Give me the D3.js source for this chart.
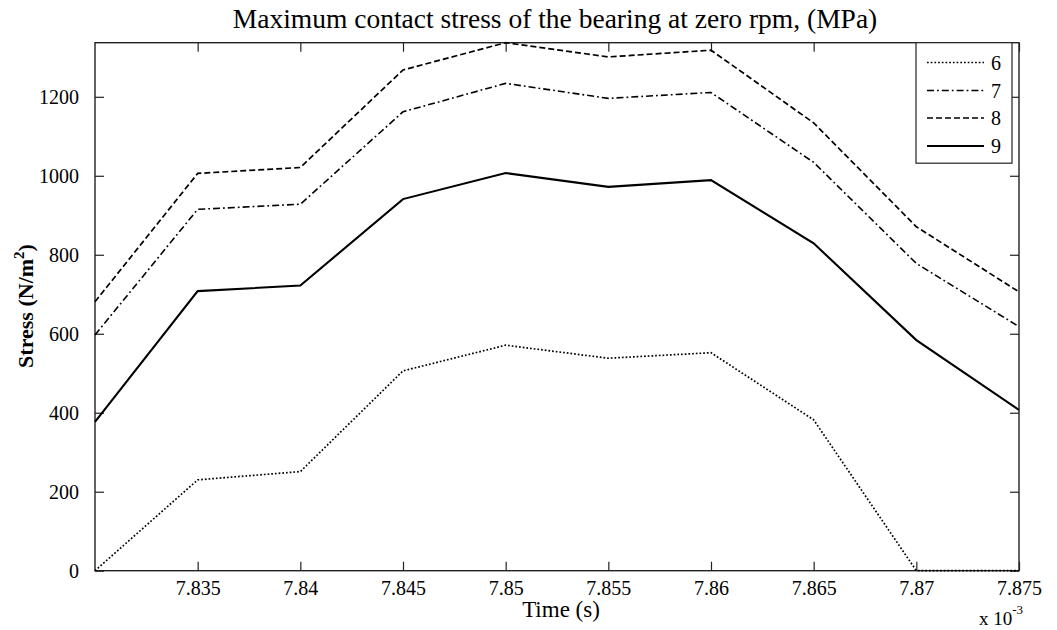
<!DOCTYPE html>
<html><head><meta charset="utf-8">
<script src="https://cdn.jsdelivr.net/npm/d3@7"></script>
<style>
body{margin:0;background:#fff;}
text{font-family:"Liberation Serif","Times New Roman",serif;fill:#000;}
</style></head>
<body><svg id="c" width="1057" height="630"></svg>
<script>
const times = [7.830, 7.835, 7.840, 7.845, 7.850, 7.855, 7.860, 7.865, 7.870, 7.875];
const seriesNames = ["6", "7", "8", "9"];
const s6 = [0, 230, 251, 506, 571, 538, 552, 382, 0, 0];
const s7 = [597, 915, 928, 1162, 1234, 1196, 1211, 1034, 778, 618];
const s8 = [681, 1006, 1021, 1268, 1337, 1301, 1318, 1134, 871, 706];
const s9 = [377, 708, 722, 941, 1007, 972, 989, 829, 584, 407];
const xTicks = [7.835, 7.84, 7.845, 7.85, 7.855, 7.86, 7.865, 7.87, 7.875];
const yTicks = [0, 200, 400, 600, 800, 1000, 1200];
const dashes = ["1.7,2", "7,3,1.8,3", "6,3", null];
const widths = [1.7, 1.6, 1.7, 2.1];
const allSeries = [s6, s7, s8, s9];

const svg = d3.select("#c");
const L = 95, R = 1019, T = 42.7, B = 570.7;
const x = d3.scaleLinear().domain([7.83, 7.875]).range([L, R]);
const y = d3.scaleLinear().domain([0, d3.max(allSeries.flat())]).range([B, T]);

const tk = 9;
const serif = "'Liberation Serif', 'Times New Roman', serif";
const g = svg.append("g");
const xb = g.append("g").attr("transform", `translate(0,${B})`)
  .call(d3.axisBottom(x).tickValues(xTicks).tickSize(-tk).tickPadding(10).tickFormat(d => String(+d.toFixed(3))));
const xt = g.append("g").attr("transform", `translate(0,${T})`)
  .call(d3.axisTop(x).tickValues(xTicks).tickSize(-tk).tickFormat(""));
const yl = g.append("g").attr("transform", `translate(${L},0)`)
  .call(d3.axisLeft(y).tickValues(yTicks).tickSize(-tk).tickPadding(16).tickFormat(d => String(d)));
const yr = g.append("g").attr("transform", `translate(${R},0)`)
  .call(d3.axisRight(y).tickValues(yTicks).tickSize(-tk).tickFormat(""));
[xb, xt, yl, yr].forEach(a => {
  a.attr("font-family", serif).attr("font-size", 20);
  a.selectAll(".domain").remove();
  a.selectAll("line").attr("stroke", "#222").attr("stroke-width", 1.2);
  a.selectAll("text").attr("fill", "#111").style("font-family", serif);
});
g.append("rect").attr("x", L).attr("y", T).attr("width", R - L).attr("height", B - T)
  .attr("fill", "none").attr("stroke", "#222").attr("stroke-width", 1.4);

const line = d3.line().x((d, i) => x(times[i])).y(d => y(d));
allSeries.forEach((s, k) => {
  svg.append("path").datum(s).attr("d", line).attr("fill", "none")
    .attr("stroke", "#000").attr("stroke-width", widths[k])
    .attr("stroke-dasharray", dashes[k]);
});

// legend
const lg = svg.append("g");
lg.append("rect").attr("x", 916).attr("y", T).attr("width", 96).attr("height", 120.5)
  .attr("fill", "#fff").attr("stroke", "#222").attr("stroke-width", 1.2);
const ly = [62.5, 90.5, 118, 146];
seriesNames.forEach((n, k) => {
  lg.append("line").attr("x1", 927).attr("x2", 984).attr("y1", ly[k]).attr("y2", ly[k])
    .attr("stroke", "#000").attr("stroke-width", widths[k]).attr("stroke-dasharray", dashes[k]);
  lg.append("text").attr("x", 991).attr("y", ly[k]).attr("dy", "0.35em").style("font-size", "20px").text(n);
});

svg.append("text").attr("x", 555).attr("y", 28).attr("text-anchor", "middle").style("font-size", "27.5px")
  .text("Maximum contact stress of the bearing at zero rpm, (MPa)");
svg.append("text").attr("x", 561).attr("y", 617).attr("text-anchor", "middle").style("font-size", "23px")
  .text("Time (s)");
const yt = svg.append("text").attr("transform", "translate(33,306) rotate(-90)").attr("text-anchor", "middle")
  .style("font-size", "22px").style("font-weight", "bold");
yt.append("tspan").text("Stress (N/m");
yt.append("tspan").attr("dy", -9).style("font-size", "15px").text("2");
yt.append("tspan").attr("dy", 9).text(")");
const ex = svg.append("text").attr("x", 979).attr("y", 625).style("font-size", "19px");
ex.append("tspan").text("x 10");
ex.append("tspan").attr("dy", -11).style("font-size", "13px").text("-3");
</script></body></html>
